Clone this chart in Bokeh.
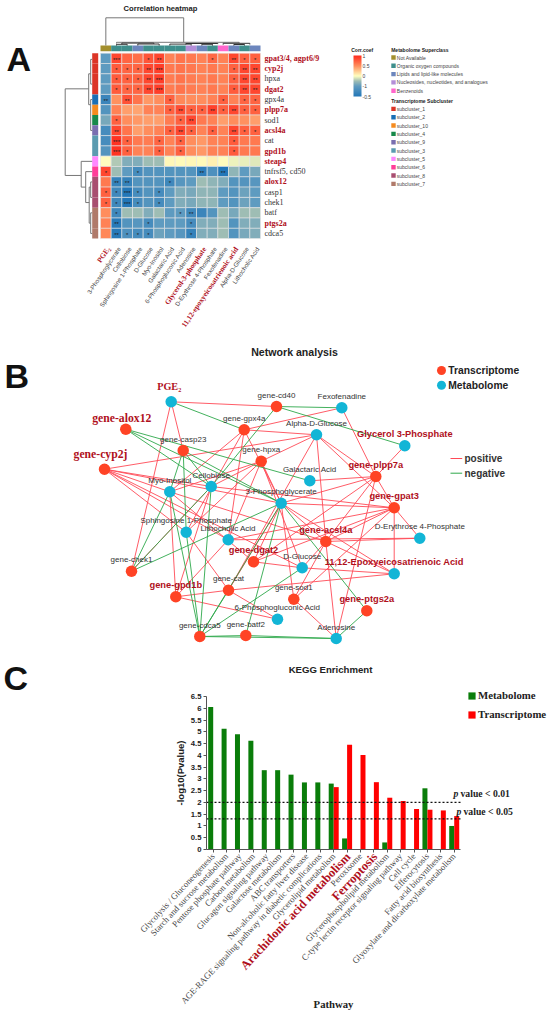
import math
import numpy as np
from bokeh.core.properties import value
from bokeh.embed import file_html
from bokeh.layouts import column
from bokeh.models import (AllLabels, ColorBar, ColumnDataSource, FixedTicker,
                          Legend, LegendItem, LinearColorMapper, NumeralTickFormatter, Range1d)
from bokeh.plotting import figure
from bokeh.resources import INLINE
from bokeh.transform import dodge, transform

SANS, SERIF = "Liberation Sans", "Liberation Serif"
DARKRED = "#b0101c"
INK = "#333333"

# ------------------------- Panel A data -------------------------
heat_rows = ["gpat3/4, agpt6/9", "cyp2j", "hpxa", "dgat2", "gpx4a", "plpp7a", "sod1", "acsl4a", "cat", "gpd1b",
             "steap4", "tnfrsf5, cd50", "alox12", "casp1", "chek1", "batf", "ptgs2a", "cdca5"]
heat_rows_red = ["gpat3/4, agpt6/9", "cyp2j", "dgat2", "plpp7a", "acsl4a", "gpd1b", "steap4", "alox12", "ptgs2a"]
heat_cols = ["PGE\u2082", "3-Phosphoglycerate", "Cellobiose", "Sphingosine 1-Phosphate", "D-Glucose", "Myo-Inositol",
             "Galactaric Acid", "6-Phosphogluconic Acid", "Adenosine", "Glycerol-3-phosphate",
             "D-Erythrose 4-Phosphate", "Fexofenadine", "11,12-epoxyeicosatrienoic acid", "Alpha-D-Glucose",
             "Lithocholic Acid"]
heat_cols_red = ["PGE\u2082", "Glycerol-3-phosphate", "11,12-epoxyeicosatrienoic acid"]
corr_gpat = [-.25, .85, .7, .65, .78, .85, .55, .62, .6, .55, .68, .55, .85, .72, .72]
corr_cyp2j = [-.25, .75, .7, .7, .85, .9, .6, .62, .6, .55, .6, .55, .72, .85, .85]
corr_hpxa = [-.25, .75, .72, .72, .85, .9, .58, .62, .58, .55, .6, .55, .72, .85, .85]
corr_dgat2 = [-.25, .75, .7, .7, .85, .9, .58, .62, .58, .55, .6, .55, .75, .85, .85]
corr_gpx4a = [-.4, .48, .8, .62, .45, .5, .72, .52, .5, .5, .55, .72, .55, .7, .7]
corr_plpp7a = [-.3, .55, .42, .4, .55, .55, .72, .82, .72, .72, .88, .72, .85, .72, .72]
corr_sod1 = [-.2, .72, .5, .45, .42, .42, .58, .72, .85, .6, .55, .42, .5, .48, .42]
corr_acsl4a = [-.35, .85, .62, .42, .5, .55, .72, .85, .72, .55, .72, .55, .85, .72, .72]
corr_cat = [-.35, .95, .72, .6, .58, .7, .55, .72, .5, .45, .55, .55, .75, .6, .6]
corr_gpd1b = [-.3, .95, .72, .55, .55, .72, .55, .72, .5, .45, .55, .55, .75, .6, .6]
corr_steap4 = [.02, -.1, -.18, -.18, -.12, -.12, .04, .03, .04, .03, .07, .02, -.02, -.03, -.04]
corr_tnfrsf5 = [.85, -.12, -.25, -.35, -.3, -.3, -.3, -.3, -.3, -.45, -.32, -.5, -.15, -.25, -.2]
corr_alox12 = [.6, -.42, -.42, -.3, -.3, -.3, -.38, -.28, -.25, -.12, -.15, -.18, -.3, -.3, -.28]
corr_casp1 = [.72, -.38, -.5, -.35, -.3, -.35, -.25, -.18, -.2, -.15, -.15, -.25, -.3, -.22, -.25]
corr_chek1 = [.72, -.38, -.5, -.35, -.3, -.35, -.25, -.18, -.2, -.15, -.15, -.25, -.3, -.22, -.25]
corr_batf = [.5, -.38, -.12, -.12, -.18, -.12, -.25, -.25, -.38, -.4, -.3, -.12, -.2, -.12, -.12]
corr_ptgs2a = [.55, -.48, -.3, -.28, -.35, -.25, -.25, -.25, -.35, -.18, -.18, -.12, -.3, -.18, -.18]
corr_cdca5 = [.52, -.48, -.32, -.35, -.35, -.22, -.25, -.28, -.42, -.18, -.18, -.12, -.3, -.2, -.18]
corr_matrix = [corr_gpat, corr_cyp2j, corr_hpxa, corr_dgat2, corr_gpx4a, corr_plpp7a, corr_sod1, corr_acsl4a,
               corr_cat, corr_gpd1b, corr_steap4, corr_tnfrsf5, corr_alox12, corr_casp1, corr_chek1, corr_batf,
               corr_ptgs2a, corr_cdca5]
# significance marks: row -> {column: stars}
stars = {0: {1: "***", 4: "*", 5: "**", 10: "*", 12: "**", 13: "*", 14: "*"},
         1: {1: "*", 2: "*", 3: "*", 4: "**", 5: "***", 12: "*", 13: "**", 14: "**"},
         2: {1: "*", 2: "*", 3: "*", 4: "**", 5: "***", 12: "*", 13: "**", 14: "**"},
         3: {1: "*", 2: "*", 3: "*", 4: "**", 5: "***", 12: "*", 13: "**", 14: "**"},
         4: {0: "**", 2: "**", 6: "*", 11: "*", 13: "*", 14: "*"},
         5: {6: "*", 7: "**", 8: "*", 9: "*", 10: "**", 11: "*", 12: "**", 13: "*", 14: "*"},
         6: {1: "*", 7: "*", 8: "**"},
         7: {1: "**", 6: "*", 7: "**", 8: "*", 10: "*", 12: "**", 13: "*", 14: "*"},
         8: {1: "***", 2: "*", 5: "*", 7: "*", 12: "*"},
         9: {1: "***", 2: "*", 5: "*", 7: "*", 12: "*"},
         11: {0: "*", 3: "*", 9: "**", 11: "**"},
         12: {1: "**", 2: "**", 6: "*"},
         13: {0: "*", 1: "*", 2: "***", 3: "*", 5: "*"},
         14: {0: "*", 1: "*", 2: "***", 3: "*", 5: "*"},
         15: {1: "*", 7: "*", 8: "**"},
         16: {1: "**", 4: "*", 8: "*"},
         17: {1: "**", 2: "*", 3: "*", 4: "*", 8: "*"}}

super_names = ["Not Available", "Organic oxygen compounds", "Lipids and lipid-like molecules",
               "Nucleosides, nucleotides, and analogues", "Benzenoids"]
super_colors = ["#a38f2d", "#3f8f8c", "#6c86bd", "#b48ed8", "#ff66cc"]
col_super = [0, 1, 1, 2, 1, 1, 1, 1, 3, 2, 1, 4, 2, 1, 2]
sub_names = ["subcluster_1", "subcluster_2", "subcluster_10", "subcluster_4", "subcluster_9", "subcluster_3",
             "subcluster_5", "subcluster_6", "subcluster_8", "subcluster_7"]
sub_colors = ["#dc3527", "#1a6fb5", "#f58b1f", "#17894a", "#7a6fb0", "#5b9bb0", "#ff88ff", "#ff3d99", "#a84e70", "#b07a6a"]
row_sub = [0, 0, 0, 0, 1, 2, 3, 4, 5, 5, 6, 7, 8, 8, 8, 9, 9, 9]

# dendrograms: (branch a position, branch b position, join height, height of a, height of b)
top_tree = [(0.5, 7.8, 27.7, 0, 3.2), (1.5, 13.0, 3.2, 2.0, 2.4), (2.0, 5.0, 2.4, 1.2, 1.5), (8.0, 11.0, 2.0, 1.0, 1.4),
            (11.5, 14.0, 2.2, 0.8, 1.0), (1.5, 2.5, 1.2, 0, 0), (3.5, 5.5, 1.5, 0, 0), (6.5, 8.5, 1.4, 0, 0),
            (9.5, 10.5, 1.2, 0, 0), (12.5, 13.5, 1.0, 0, 0)]
left_tree = [(3.46, 11.87, 27, 3.5, 11), (2.0, 5.0, 3.5, 1.5, 1.5), (0.6, 3.0, 1.5, 0, 0), (4.5, 7.5, 1.5, 0, 0),
             (10.5, 13.0, 11, 0, 6.5), (11.5, 14.5, 6.5, 0, 3.0), (13.0, 16.5, 3.0, 1.5, 1.5), (12.5, 14.0, 1.5, 0, 0),
             (15.5, 17.5, 1.5, 0, 0)]

# ------------------------- Panel B data -------------------------
node_names = ["PGE\u2082", "gene-cd40", "gene-gpx4a", "gene-alox12", "gene-casp23", "gene-cyp2j", "gene-hpxa",
              "Cellobiose", "Myo-Inositol", "3-Phosphoglycerate", "Fexofenadine", "Alpha-D-Glucose",
              "Glycerol 3-Phosphate", "Galactaric Acid", "gene-plpp7a", "gene-gpat3", "Sphingosine 1-Phosphate",
              "Lithocholic Acid", "gene-dgat2", "gene-chek1", "D-Glucose", "gene-gpd1b", "gene-cat", "gene-sod1",
              "6-Phosphogluconic Acid", "gene-cdca5", "gene-batf2", "gene-acsl4a", "D-Erythrose 4-Phosphate",
              "11,12-Epoxyeicosatrienoic Acid", "gene-ptgs2a", "Adenosine"]
node_x = [170.7, 276, 243.7, 125.3, 182.7, 104, 260.7, 210.7, 169.3, 280.7, 341.3, 316, 404.3, 309.3, 375.3, 393.7,
          185.7, 227.7, 253, 131, 301.7, 175.3, 228, 293.3, 277, 199.3, 245.3, 325.3, 419.3, 393.7, 366.3, 335.7]
node_y = [401.3, 406, 429.3, 428.7, 450, 468.7, 460.7, 486, 491.3, 502.7, 407.3, 434.3, 445.3, 480.3, 476, 507.3,
          531.7, 539.3, 561.3, 570.7, 567.3, 596.3, 589.7, 598.7, 618.7, 636, 635, 541, 537.7, 573.3, 610.3, 638]
node_red = ["gene-alox12", "gene-cyp2j", "gene-plpp7a", "gene-gpat3", "gene-dgat2", "gene-gpd1b", "gene-acsl4a",
            "gene-ptgs2a", "Glycerol 3-Phosphate", "11,12-Epoxyeicosatrienoic Acid"]
positive_edges = [("PGE\u2082", "gene-cd40"), ("PGE\u2082", "gene-casp23"), ("PGE\u2082", "gene-chek1"),
    ("gene-cyp2j", "Alpha-D-Glucose"), ("gene-cyp2j", "Myo-Inositol"), ("gene-cyp2j", "Sphingosine 1-Phosphate"),
    ("gene-cyp2j", "3-Phosphoglycerate"), ("gene-cyp2j", "Lithocholic Acid"), ("gene-cyp2j", "D-Glucose"),
    ("gene-cyp2j", "Cellobiose"), ("gene-gpx4a", "Fexofenadine"), ("gene-gpx4a", "Alpha-D-Glucose"),
    ("gene-gpx4a", "Myo-Inositol"), ("gene-gpx4a", "3-Phosphoglycerate"), ("gene-gpx4a", "Sphingosine 1-Phosphate"),
    ("gene-gpx4a", "Lithocholic Acid"), ("gene-hpxa", "Alpha-D-Glucose"), ("gene-hpxa", "Myo-Inositol"),
    ("gene-hpxa", "Cellobiose"), ("gene-hpxa", "3-Phosphoglycerate"), ("gene-hpxa", "Sphingosine 1-Phosphate"),
    ("gene-hpxa", "Lithocholic Acid"), ("gene-hpxa", "D-Glucose"), ("Fexofenadine", "gene-plpp7a"),
    ("Alpha-D-Glucose", "gene-plpp7a"), ("Alpha-D-Glucose", "gene-gpat3"), ("Alpha-D-Glucose", "gene-acsl4a"),
    ("Alpha-D-Glucose", "gene-cat"), ("Galactaric Acid", "gene-plpp7a"), ("Glycerol 3-Phosphate", "gene-plpp7a"),
    ("3-Phosphoglycerate", "gene-plpp7a"), ("3-Phosphoglycerate", "gene-gpat3"), ("3-Phosphoglycerate", "gene-acsl4a"),
    ("3-Phosphoglycerate", "11,12-Epoxyeicosatrienoic Acid"), ("3-Phosphoglycerate", "gene-dgat2"),
    ("3-Phosphoglycerate", "gene-cat"), ("3-Phosphoglycerate", "gene-sod1"), ("gene-plpp7a", "gene-gpat3"),
    ("gene-plpp7a", "gene-dgat2"), ("gene-plpp7a", "gene-acsl4a"), ("gene-plpp7a", "Adenosine"),
    ("gene-gpat3", "11,12-Epoxyeicosatrienoic Acid"), ("gene-gpat3", "D-Erythrose 4-Phosphate"),
    ("gene-gpat3", "gene-acsl4a"), ("gene-gpat3", "gene-dgat2"), ("gene-gpat3", "gene-sod1"),
    ("gene-gpat3", "Lithocholic Acid"), ("gene-acsl4a", "D-Erythrose 4-Phosphate"),
    ("gene-acsl4a", "11,12-Epoxyeicosatrienoic Acid"), ("gene-acsl4a", "D-Glucose"), ("gene-acsl4a", "Adenosine"),
    ("gene-acsl4a", "gene-sod1"), ("D-Glucose", "11,12-Epoxyeicosatrienoic Acid"), ("gene-dgat2", "D-Glucose"),
    ("gene-cat", "11,12-Epoxyeicosatrienoic Acid"), ("gene-cat", "6-Phosphogluconic Acid"),
    ("gene-gpd1b", "6-Phosphogluconic Acid"), ("gene-gpd1b", "gene-cat"), ("gene-sod1", "Adenosine"),
    ("gene-cat", "Sphingosine 1-Phosphate"), ("gene-gpd1b", "Myo-Inositol"), ("gene-gpd1b", "Cellobiose"),
    ("gene-gpd1b", "Lithocholic Acid"), ("gene-chek1", "Cellobiose"), ("Myo-Inositol", "gene-dgat2"),
    ("Myo-Inositol", "gene-acsl4a"), ("Lithocholic Acid", "D-Erythrose 4-Phosphate"), ("Cellobiose", "gene-gpat3")]
negative_edges = [("PGE\u2082", "gene-gpx4a"), ("gene-alox12", "3-Phosphoglycerate"), ("gene-alox12", "Galactaric Acid"),
    ("gene-alox12", "Cellobiose"), ("gene-casp23", "Sphingosine 1-Phosphate"), ("gene-casp23", "3-Phosphoglycerate"),
    ("gene-casp23", "Cellobiose"), ("gene-cd40", "Fexofenadine"), ("gene-cd40", "Glycerol 3-Phosphate"),
    ("gene-cd40", "Cellobiose"), ("3-Phosphoglycerate", "gene-ptgs2a"), ("3-Phosphoglycerate", "gene-cdca5"),
    ("3-Phosphoglycerate", "gene-batf2"), ("3-Phosphoglycerate", "gene-chek1"), ("D-Glucose", "gene-cdca5"),
    ("gene-cat", "gene-cdca5"), ("Myo-Inositol", "gene-chek1"), ("Cellobiose", "gene-chek1"),
    ("Sphingosine 1-Phosphate", "gene-cdca5"), ("Cellobiose", "gene-cdca5"), ("gene-cdca5", "gene-batf2"),
    ("gene-batf2", "Adenosine"), ("gene-cdca5", "Adenosine"), ("gene-ptgs2a", "Adenosine"), ("Myo-Inositol", "gene-cdca5"),
    ("gene-casp23", "Myo-Inositol")]

# ------------------------- Panel C data -------------------------
pathways = ["Glycolysis / Gluconeogenesis", "Starch and sucrose metabolism", "Pentose phosphate pathway",
            "Carbon metabolism", "Glucagon signaling pathway", "Galactose metabolism", "ABC transporters",
            "Non-alcoholic fatty liver disease", "AGE-RAGE signaling pathway in diabetic complications",
            "Glycerolipid metabolism", "Arachidonic acid metabolism", "Peroxisome", "Ferroptosis",
            "Glycerophospholipid metabolism", "C-type lectin receptor signaling pathway", "Cell cycle", "Efferocytosis",
            "Fatty acid biosynthesis", "Glyoxylate and dicarboxylate metabolism"]
pathways_red = ["Arachidonic acid metabolism", "Ferroptosis"]
metabolome = [6.05, 5.13, 4.9, 4.62, 3.37, 3.37, 3.18, 2.85, 2.85, 2.8, 0.47, 0, 0, 0.3, 0, 0, 2.6, 0, 1.0]
transcriptome = [0, 0, 0, 0, 0, 0, 0, 0, 0, 2.65, 4.45, 4.01, 2.86, 2.2, 2.06, 1.72, 1.69, 1.66, 1.42]
thresholds = [2.0, 1.3]
y_ticks = [0, 0.5, 1, 1.5, 2, 2.5, 3, 3.5, 4, 4.5, 5, 5.5, 6, 6.5]

# ------------------------- Layout -------------------------
W = 550
A_TOP, A_BOT = 0, 336
B_TOP, B_BOT = 336, 660
C_TOP, C_BOT = 660, 1010


def ramp(stops, n):
    pos = np.linspace(0, 1, n)
    xs = [s[0] for s in stops]
    rgb = [[int(s[1][i:i + 2], 16) for i in (1, 3, 5)] for s in stops]
    out = []
    for t in pos:
        c = [int(round(np.interp(t, xs, [r[k] for r in rgb]))) for k in range(3)]
        out.append("#%02x%02x%02x" % tuple(c))
    return out


LOW = [(0, "#2377b8"), (0.5, "#5f9bc0"), (0.75, "#9dbcb4"), (1, "#ffffbf")]
HIGH = [(0, "#ffffbf"), (0.5, "#ff8c5c"), (1, "#ff2a1c")]
palette_heat = ramp(LOW, 86) + ramp(HIGH, 170)
palette_bar = ramp(LOW, 128) + ramp(HIGH, 128)

# ======= Panel A =======
CW, RH = 10.667, 10.3
X0, Y0 = 100.0, 52.7
xa = lambda px: (px - X0) / CW
ya = lambda py: (py - Y0) / RH
pa = figure(width=W, height=A_BOT - A_TOP, output_backend="svg", toolbar_location=None, frame_align=False,
            x_range=Range1d(xa(0), xa(550)), y_range=Range1d(ya(A_BOT), ya(A_TOP)), min_border=0)
pa.axis.visible = False
pa.grid.visible = False
pa.outline_line_color = None


def ta(p, x, y, text, size, font=SANS, color=INK, style="normal", align="left", baseline="middle", angle=0):
    return p.text(x=[x], y=[y], text=[text], text_font=value(font), text_font_size=size, text_color=color,
                  text_font_style=style, text_align=align, text_baseline=baseline, angle=angle)


n_r, n_c = len(heat_rows), len(heat_cols)
cells = dict(c=[], r=[], v=[])
for r in range(n_r):
    for c in range(n_c):
        cells["c"].append(c + 0.5)
        cells["r"].append(r + 0.5)
        cells["v"].append(corr_matrix[r][c])
mapper = LinearColorMapper(palette=palette_heat, low=-0.5, high=1)
pa.rect(x="c", y="r", width=1, height=1, source=ColumnDataSource(cells), fill_color=transform("v", mapper),
        line_color="#e6e6e6", line_width=0.6)
sx, sy, st = [], [], []
for r, d in stars.items():
    for c, s in d.items():
        sx.append(c + 0.5)
        sy.append(r + 0.62)
        st.append(s)
pa.text(x=sx, y=sy, text=st, text_font=value(SANS), text_font_size="6px", text_color="#222222",
        text_align="center", text_baseline="middle")
# annotations
pa.rect(x=[c + 0.5 for c in range(n_c)], y=[ya(47.9)] * n_c, width=1, height=5.7 / RH,
        fill_color=[super_colors[k] for k in col_super], line_color=None)
pa.rect(x=[xa(94.7)] * n_r, y=[r + 0.5 for r in range(n_r)], width=6 / CW, height=1,
        fill_color=[sub_colors[k] for k in row_sub], line_color=None)
# row / column labels
for r, name in enumerate(heat_rows):
    red = name in heat_rows_red
    ta(pa, xa(264), r + 0.5, name, "8px", SERIF, DARKRED if red else INK, "bold" if red else "normal")
for c, name in enumerate(heat_cols):
    red = name in heat_cols_red
    ta(pa, c + 0.75, ya(247), name, "7.4px" if red else "6.2px", SERIF if red else SANS, DARKRED if red else "#444444",
       "bold" if red else "normal", align="right", angle=math.radians(56))
# dendrograms
dx0, dx1, dy0, dy1, dc = [], [], [], [], []
ann_top = ya(45)
for a, b, h, ha, hb in top_tree:
    ya_, yb_, yh = ann_top - ha / RH, ann_top - hb / RH, ann_top - h / RH
    dx0 += [a, a, b]; dy0 += [ya_, yh, yb_]; dx1 += [a, b, b]; dy1 += [yh, yh, yh]
    dc += ["#777777" if h > 3 else "#333333"] * 3
pa.segment(dx0, dy0, dx1, dy1, line_color=dc, line_width=1)
dx0, dx1, dy0, dy1 = [], [], [], []
ann_left = xa(91.7)
for a, b, h, ha, hb in left_tree:
    xa_, xb_, xh = ann_left - ha / CW, ann_left - hb / CW, ann_left - h / CW
    dy0 += [a, a, b]; dx0 += [xa_, xh, xb_]; dy1 += [a, b, b]; dx1 += [xh, xh, xh]
pa.segment(dx0, dy0, dx1, dy1, line_color="#777777", line_width=1)
# legends
ta(pa, xa(390.7), ya(49.3), "Metabolome Superclass", "5px", style="bold", color="#222222")
for i, (n, col) in enumerate(zip(super_names, super_colors)):
    ta(pa, xa(396.3), ya(57 + 8.3 * i), n, "5px", color="#444444")
pa.rect(x=[xa(393)] * 5, y=[ya(57 + 8.3 * i) for i in range(5)], width=4.4 / CW, height=4.4 / RH,
        fill_color=super_colors, line_color=None)
ta(pa, xa(390.7), ya(100.7), "Transcriptome Subcluster", "5px", style="bold", color="#222222")
for i, n in enumerate(sub_names):
    ta(pa, xa(396.3), ya(108.4 + 8.33 * i), n, "5px", color="#444444")
pa.rect(x=[xa(393)] * 10, y=[ya(108.4 + 8.33 * i) for i in range(10)], width=4.4 / CW, height=4.4 / RH,
        fill_color=sub_colors, line_color=None)
# colour bar
bar_mapper = LinearColorMapper(palette=palette_bar, low=-1, high=1)
cb = ColorBar(color_mapper=bar_mapper, location=(353, A_BOT - 96), width=8, height=41, padding=0,
              ticker=FixedTicker(ticks=[1, 0.5, 0, -0.5, -1]), major_label_overrides={-0.5: "-1", -1: "-0.5"},
              major_label_policy=AllLabels(),
              major_label_text_font=SANS, major_label_text_font_size="5px", major_label_text_color="#444444",
              major_tick_line_color=None, bar_line_color=None,
              label_standoff=1, background_fill_color=None, border_line_color=None, level="underlay")
pa.add_layout(cb, "center")
ta(pa, xa(361.7), ya(49), "Corr.coef", "5px", style="bold", color="#222222", align="center")
ta(pa, xa(160), ya(8.3), "Correlation heatmap", "7.6px", style="bold", color="#222222", align="center")
ta(pa, xa(6), ya(58), "A", "34px", style="bold", color="#111111")

# ======= Panel B =======
pb = figure(width=W, height=B_BOT - B_TOP, output_backend="svg", toolbar_location=None, frame_align=False,
            x_range=Range1d(0, W), y_range=Range1d(B_BOT, B_TOP), min_border=0)
pb.axis.visible = False
pb.grid.visible = False
pb.outline_line_color = None
pos = {n: (x, y) for n, x, y in zip(node_names, node_x, node_y)}
for edges, col in ((positive_edges, "#ff4a57"), (negative_edges, "#2fa84b")):
    pb.segment(x0=[pos[a][0] for a, b in edges], y0=[pos[a][1] for a, b in edges],
               x1=[pos[b][0] for a, b in edges], y1=[pos[b][1] for a, b in edges],
               line_color=col, line_width=1, line_alpha=0.9)
genes = [n for n in node_names if n.startswith("gene-")]
mets = [n for n in node_names if not n.startswith("gene-")]
pb.scatter([pos[n][0] for n in genes], [pos[n][1] for n in genes], size=11.5, fill_color="#ff4325", line_color=None)
pb.scatter([pos[n][0] for n in mets], [pos[n][1] for n in mets], size=11.5, fill_color="#12b5d6", line_color=None)
for n in node_names:
    x, y = pos[n]
    if n == "PGE\u2082":
        ta(pb, x - 2, y - 15, n, "10.2px", SERIF, DARKRED, "bold", align="center")
    elif n in ("gene-alox12", "gene-cyp2j"):
        ta(pb, x - 4, y - 10.7 if n == "gene-alox12" else y - 14.7, n, "11.7px", SERIF, DARKRED, "bold", align="center")
    elif n in node_red:
        ta(pb, x, y - 11.5, n, "9.3px", SANS, DARKRED, "bold", align="center")
    else:
        ta(pb, x, y - 11.3, n, "8px", SANS, INK, align="center")
pb.scatter([441], [370], size=9, fill_color="#ff4325", line_color=None)
pb.scatter([441], [384.7], size=9, fill_color="#12b5d6", line_color=None)
ta(pb, 447.7, 370, "Transcriptome", "10.3px", style="bold", color="#222222")
ta(pb, 447.7, 384.7, "Metabolome", "10.3px", style="bold", color="#222222")
pb.segment([450], [458], [461.7], [458], line_color="#ff4a57", line_width=1)
pb.segment([450], [472.7], [461.7], [472.7], line_color="#2fa84b", line_width=1)
ta(pb, 464, 458, "positive", "10px", style="bold", color="#333333")
ta(pb, 464, 472.7, "negative", "10px", style="bold", color="#333333")
ta(pb, 294, 351, "Network analysis", "10.6px", style="bold", color="#222222", align="center")
ta(pb, 4, 375, "B", "34px", style="bold", color="#111111")

# ======= Panel C =======
BAND = 13.39
G0 = 212.7       # page position of the first pathway
C0 = 849.0       # page position of value 0
UNIT = 153 / 6.5
xc = lambda px: (px - G0) / BAND
yc = lambda py: (C0 - py) / UNIT
pc = figure(width=W, height=C_BOT - C_TOP, output_backend="svg", toolbar_location=None, frame_align=False,
            x_range=Range1d(xc(0), xc(W)), y_range=Range1d(yc(C_BOT), yc(C_TOP)), min_border=0)
pc.outline_line_color = None
pc.grid.visible = False
n_p = len(pathways)
idx = list(range(n_p))
src = ColumnDataSource(dict(i=idx, m=metabolome, t=transcriptome))
bar_w = 5 / BAND
gr = pc.vbar(x=dodge("i", -bar_w / 2), top="m", width=bar_w, source=src, fill_color="#0a7d0a", line_color=None)
rr = pc.vbar(x=dodge("i", bar_w / 2), top="t", width=bar_w, source=src, fill_color="#ff0000", line_color=None)
pc.segment(x0=[-0.5] * 2, x1=[n_p - 0.5] * 2, y0=thresholds, y1=thresholds, line_color="#111111", line_width=1.3,
           line_dash="2 2")
yax = pc.yaxis[0]
yax.fixed_location = -0.5
yax.bounds = (0, 6.5)
yax.ticker = FixedTicker(ticks=y_ticks)
yax.formatter = NumeralTickFormatter(format="0.[0]")
yax.major_label_text_font = SANS
yax.major_label_text_font_style = "bold"
yax.major_label_text_font_size = "7.7px"
yax.major_label_text_color = "#222222"
yax.major_tick_out = 3
yax.major_tick_in = 0
yax.minor_tick_line_color = None
yax.major_label_standoff = 2
yax.axis_line_color = "#555555"
yax.major_tick_line_color = "#555555"
yax.axis_label = "-log10(Pvalue)"
yax.axis_label_text_font = SANS
yax.axis_label_text_font_style = "bold"
yax.axis_label_text_font_size = "9.5px"
yax.axis_label_text_color = "#222222"
yax.axis_label_standoff = 2
xax = pc.xaxis[0]
xax.fixed_location = 0
xax.bounds = (-0.5, n_p - 0.5)
xax.ticker = FixedTicker(ticks=idx)
xax.major_label_overrides = {i: ("" if n in pathways_red else n) for i, n in enumerate(pathways)}
xax.major_label_orientation = math.radians(47)
xax.major_label_text_font = SERIF
xax.major_label_text_font_size = "8.8px"
xax.major_label_text_color = "#444444"
xax.major_tick_out = 3
xax.major_tick_in = 0
xax.minor_tick_line_color = None
xax.major_label_standoff = 2
xax.axis_line_color = "#555555"
xax.major_tick_line_color = "#555555"
for n in pathways_red:
    ta(pc, pathways.index(n) + 0.1, yc(854), n, "12.4px", SERIF, DARKRED, "bold", align="right", angle=math.radians(47))
ta(pc, xc(330), yc(669), "KEGG Enrichment", "9.6px", style="bold", color="#222222", align="center")
ta(pc, xc(333), yc(1003), "Pathway", "10.7px", SERIF, "#222222", "bold", align="center")
ta(pc, xc(3), yc(677), "C", "34px", style="bold", color="#111111")
ta(pc, xc(453), yc(793), "p", "9.7px", SERIF, "#222222", "bold italic")
ta(pc, xc(460), yc(793), "value < 0.01", "9.7px", SERIF, "#222222", "bold")
ta(pc, xc(456), yc(810.7), "p", "9.7px", SERIF, "#222222", "bold italic")
ta(pc, xc(463), yc(810.7), "value < 0.05", "9.7px", SERIF, "#222222", "bold")
leg = Legend(items=[LegendItem(label="Metabolome", renderers=[gr]), LegendItem(label="Transcriptome", renderers=[rr])],
             location=(467, C_BOT - 720), glyph_width=9, glyph_height=9, spacing=7, padding=0, margin=0,
             label_standoff=2, label_height=9, label_text_font=SERIF, label_text_font_style="bold",
             label_text_font_size="10.8px", label_text_color="#222222", background_fill_alpha=0, border_line_color=None)
pc.add_layout(leg, "center")

layout = column(pa, pb, pc, spacing=0)
open("out.html", "w").write(file_html(layout, INLINE))
